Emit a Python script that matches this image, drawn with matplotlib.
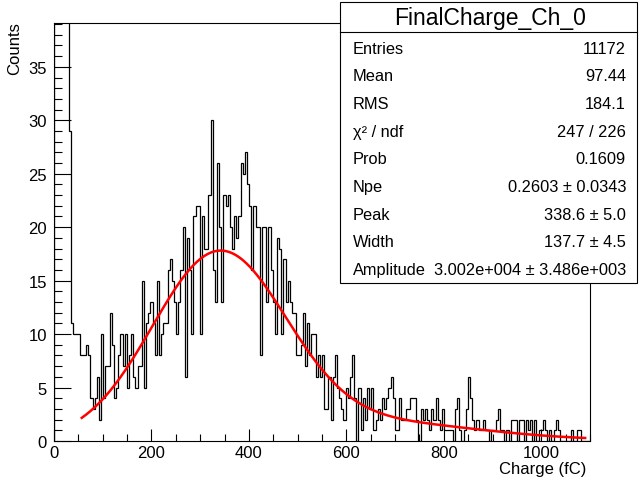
import numpy as np
import matplotlib
matplotlib.use("Agg")
import matplotlib.pyplot as plt
from matplotlib.patches import Rectangle
from matplotlib.lines import Line2D
from matplotlib.ticker import MultipleLocator

plt.rcParams['font.family'] = ['Liberation Sans', 'DejaVu Sans']

# Histogram: 250 bins over 0-1100 fC
x_min, x_max, n_bins = 0.0, 1100.0, 250
counts = [
    5200, 2400, 900, 300, 120, 60, 45, 29, 11, 10,
    10, 10, 8, 8, 8, 9, 8, 4, 3, 4,
    6, 2, 10, 4, 7, 7, 12, 9, 4, 5,
    8, 10, 7, 10, 5, 8, 10, 6, 5, 7,
    7, 15, 5, 11, 12, 13, 11, 8, 15, 8,
    10, 11, 11, 16, 17, 15, 13, 10, 13, 16,
    20, 6, 19, 16, 10, 21, 22, 22, 10, 21,
    18, 18, 23, 30, 16, 13, 26, 20, 13, 23,
    22, 23, 20, 18, 21, 19, 21, 26, 25, 27,
    24, 22, 16, 22, 20, 20, 8, 20, 20, 13,
    20, 16, 13, 10, 19, 18, 10, 17, 13, 15,
    13, 12, 12, 8, 8, 9, 12, 7, 11, 8,
    10, 10, 6, 8, 6, 8, 3, 3, 6, 2,
    6, 8, 5, 4, 3, 2, 5, 4, 6, 8,
    4, 0, 5, 1, 4, 2, 5, 3, 5, 1,
    2, 3, 2, 4, 3, 4, 5, 6, 4, 1,
    1, 4, 2, 2, 3, 3, 4, 4, 4, 2,
    0, 3, 2, 3, 2, 1, 3, 2, 4, 2,
    1, 3, 1, 1, 1, 1, 0, 3, 4, 1,
    0, 1, 3, 6, 4, 2, 1, 2, 1, 1,
    2, 1, 1, 0, 1, 1, 2, 3, 1, 1,
    0, 1, 0, 2, 2, 2, 0, 2, 2, 0,
    2, 1, 2, 0, 2, 0, 1, 1, 2, 1,
    0, 1, 0, 1, 2, 1, 0, 0, 0, 0,
    0, 1, 0, 0, 1, 1, 0, 0, 0, 0,
]

# Fit results (Poisson-weighted sum of photoelectron Gaussians)
npe, npe_err = 0.2603, 0.0343
peak, peak_err = 338.6, 5.0
width, width_err = 137.7, 4.5
amplitude, amplitude_err = 3.002e4, 3.486e3
fit_range = (57.0, 1090.0)

stats_title = "FinalCharge_Ch_0"
entries = 11172
mean_val = 97.44
rms_val = 184.1
chi2, ndf = 247, 226
prob = 0.1609


def multi_pe(x, mu, q1, s1, amp, n_max=8):
    total = np.zeros_like(x)
    fact = 1.0
    for n in range(1, n_max + 1):
        fact *= n
        w = np.exp(-mu) * mu ** n / fact
        s = s1 * np.sqrt(n)
        total += amp * w / (np.sqrt(2 * np.pi) * s) * np.exp(-(x - n * q1) ** 2 / (2 * s ** 2))
    return total


W, H = 639, 485
fig = plt.figure(figsize=(W / 100, H / 100), dpi=100)
left, right, top, bottom = 54, 590, 24, 442
ax = fig.add_axes([left / W, 1 - bottom / H, (right - left) / W, (bottom - top) / H])

edges = np.linspace(x_min, x_max, n_bins + 1)
ax.stairs(counts, edges, color='black', lw=0.9, baseline=0)

xf = np.linspace(fit_range[0], fit_range[1], 600)
ax.plot(xf, multi_pe(xf, npe, peak, width, amplitude), color='red', lw=1.8)

ax.set_xlim(x_min, x_max)
ax.set_ylim(0, 39.1)
ax.xaxis.set_major_locator(MultipleLocator(200))
ax.xaxis.set_minor_locator(MultipleLocator(50))
ax.yaxis.set_major_locator(MultipleLocator(5))
ax.yaxis.set_minor_locator(MultipleLocator(1))
ax.tick_params(which='both', direction='in', top=False, right=False, labelsize=12, width=0.8)
ax.tick_params(axis='y', which='major', length=12, pad=5)
ax.tick_params(axis='y', which='minor', length=6)
ax.tick_params(axis='x', which='major', length=9, pad=3)
ax.tick_params(axis='x', which='minor', length=5)
for sp in ax.spines.values():
    sp.set_linewidth(0.8)

fig.text(15 / W, 1 - 22 / H, "Counts", rotation=90, ha='center', va='top', fontsize=12)
fig.text(586 / W, 1 - 470 / H, "Charge (fC)", ha='right', va='center', fontsize=12)

# Statistics box
bx0, by0, bx1, by1 = 340, 3, 637, 284
fig.add_artist(Rectangle((bx0 / W, 1 - by1 / H), (bx1 - bx0) / W, (by1 - by0) / H,
                         transform=fig.transFigure, facecolor='white',
                         edgecolor='black', lw=0.8, zorder=5))
fig.add_artist(Line2D([bx0 / W, bx1 / W], [1 - 33 / H, 1 - 33 / H],
                      transform=fig.transFigure, color='black', lw=0.8, zorder=6))
fig.text(490 / W, 1 - 18 / H, stats_title, ha='center', va='center', fontsize=16.5, zorder=7)

rows = [
    ("Entries", f"{entries}"),
    ("Mean", f"{mean_val:.2f}"),
    ("RMS", f"{rms_val:.1f}"),
    ("χ² / ndf", f"{chi2} / {ndf}"),
    ("Prob", f"{prob:.4f}"),
    ("Npe", f"{npe:.4f} ± {npe_err:.4f}"),
    ("Peak", f"{peak:.1f} ± {peak_err:.1f}"),
    ("Width", f"{width:.1f} ± {width_err:.1f}"),
    ("Amplitude", "3.002e+004 ± 3.486e+003"),
]
for k, (lab, val) in enumerate(rows):
    yy = 1 - (49 + 27.7 * k) / H
    fig.text(353 / W, yy, lab, ha='left', va='center', fontsize=11.8, zorder=7)
    fig.text(626 / W, yy, val, ha='right', va='center', fontsize=11.8, zorder=7)

fig.savefig("out.png", dpi=100)
